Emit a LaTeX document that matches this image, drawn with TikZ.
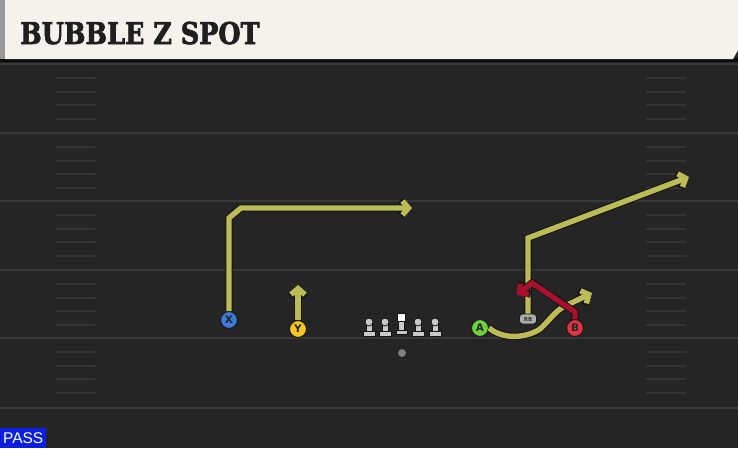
\documentclass[tikz,border=0pt]{standalone}
\usepackage{fontspec}
\setmainfont{DejaVu Serif}
\newfontfamily\titlefont[FakeBold=2.4]{DejaVu Serif}
\newfontfamily\lsans{Liberation Sans}
\newfontfamily\dsans{DejaVu Sans}
\usetikzlibrary{arrows.meta}
\definecolor{field}{HTML}{252525}
\definecolor{yardline}{HTML}{383838}
\definecolor{hashc}{HTML}{353535}
\definecolor{cream}{HTML}{F5F2EC}
\definecolor{routey}{HTML}{BDBB55}
\definecolor{router}{HTML}{A8102E}
\definecolor{outl}{HTML}{141414}
\definecolor{pblue}{HTML}{3E7BD8}
\definecolor{pyellow}{HTML}{F4C622}
\definecolor{pgreen}{HTML}{6CD23C}
\definecolor{pred}{HTML}{DE3442}
\definecolor{linegray}{HTML}{C9C9C9}
\definecolor{passblue}{HTML}{0C1FE0}
\tikzset{
  x=1pt, y=-1pt,
  route/.style={line width=5.4pt, draw=#1, line join=miter, -{Straight Barb[length=6pt,width=14pt]},
    preaction={draw=outl, line width=7.4pt, -{Straight Barb[length=6.5pt,width=15.5pt]}}},
  player/.style={circle, draw=outl, line width=1pt, fill=#1, minimum size=17pt, inner sep=0pt,
    font=\dsans\bfseries\fontsize{10.5}{10.5}\selectfont, text=black!85},
  hashmark/.style={draw=hashc, line width=1.3pt},
  yard/.style={draw=yardline, line width=1.8pt},
  olpart/.style={fill=linegray, draw=outl, line width=0.8pt},
}
\begin{document}
\begin{tikzpicture}
\useasboundingbox (0,0) rectangle (738,448);
% field
\fill[field] (0,0) rectangle (738,448);
\fill[black!70!field] (0,58) rectangle (738,62);
\foreach \yy in {64,133,201,270,338,408} \draw[yard] (0,\yy) -- (738,\yy);
\foreach \yy in {64,133,201,270,338} {
  \foreach \d in {14,28,41,55} {
    \draw[hashmark] (56,\yy+\d) -- (95,\yy+\d);
    \draw[hashmark] (646,\yy+\d) -- (686,\yy+\d);
  }
}
% header
\fill[cream] (5,0) -- (738,0) -- (738,50) -- (733,59) -- (5,59) -- cycle;
\fill[black!40] (0,0) rectangle (5,59);
\node[anchor=base west, inner sep=0pt, font=\titlefont\bfseries\fontsize{30}{30}\selectfont, text=black!88] (title) at (20,44) {\scalebox{0.85}[1]{BUBBLE Z SPOT}};
% PASS label
\node[anchor=south west, fill=passblue, inner sep=0pt, minimum width=46pt, minimum height=20pt, text=white, font=\lsans\fontsize{15.5}{15.5}\selectfont] (pass) at (0,448) {PASS};
% players
\node[player=pblue] (X) at (229,320) {X};
\node[player=pyellow] (Y) at (298,329) {Y};
\node[player=pgreen] (A) at (480,328) {A};
\node[player=pred] (B) at (575,328) {B};
\node[rounded corners=3pt, fill=black!32, draw=outl, line width=0.8pt, minimum width=17pt, minimum height=10pt, inner sep=0pt,
  font=\dsans\bfseries\fontsize{5.5}{5.5}\selectfont, text=black!80] (RB) at (528,319) {RB};
% ball
\node[circle, fill=black!50, draw=outl, line width=0.6pt, minimum size=9pt, inner sep=0pt] (ball) at (402,353) {};
% linemen
\foreach \lx/\nm in {369/L1,385/L2,418/L3,435/L4} {
  \fill[olpart] (\lx-6,331.5) rectangle (\lx+6,336);
  \fill[olpart] (\lx-3,322) rectangle (\lx+3,331.5);
  \node[circle, olpart, minimum size=8pt, inner sep=0pt] (\nm) at (\lx,322) {};
}
\fill[olpart] (396,330.5) rectangle (407,334.5);
\fill[olpart] (398.5,321) rectangle (404.5,330.5);
\node[fill=white, draw=outl, line width=0.8pt, minimum size=8pt, inner sep=0pt] (C) at (401.5,317.5) {};
% routes
\coordinate (x1) at (229,218);
\coordinate (x2) at (241,208);
\coordinate (xe) at (412,208);
\draw[route=routey] (X.north) -- (x1) -- (x2) -- (xe);
\coordinate (ye) at (298,285);
\draw[route=routey] (Y.north) -- (ye);
\coordinate (a1) at (540,329);
\coordinate (a2) at (565,306);
\coordinate (ae) at (592,293);
\draw[route=routey] (A.east) .. controls (505,341) and (528,337) .. (a1) .. controls (550,320) and (555,311) .. (a2) -- (ae);
\coordinate (r1) at (528,238);
\coordinate (re) at (689,177);
\draw[route=routey] (RB.north) -- (r1) -- (re);
\coordinate (b1) at (575,312);
\coordinate (b2) at (532,283);
\coordinate (be) at (517,295);
\draw[route=router] (B.north) -- (b1) -- (b2) -- (be);
\end{tikzpicture}
\end{document}
